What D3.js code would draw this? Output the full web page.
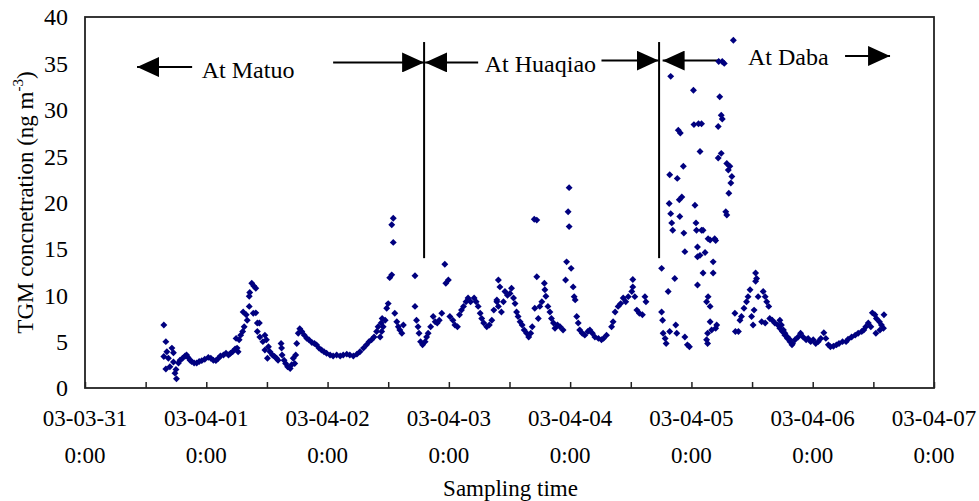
<!DOCTYPE html>
<html>
<head>
<meta charset="utf-8">
<script src="https://cdn.jsdelivr.net/npm/d3@7"></script>
<style>
  body { margin: 0; background: #fff; }
  text { font-family: "Liberation Serif", "Times New Roman", serif; fill: #000; }
</style>
</head>
<body>
<div id="chart"></div>
<script>
// [hours since 03-03-31 0:00, TGM ng/m3]
const matuo = [
  [15.6, 6.8], [15.6, 3.4], [16.0, 5.0], [16.0, 2.05], [16.2, 3.9], [16.5, 3.2], [16.8, 2.3], [17.2, 4.3], [17.5, 3.8], [17.5, 2.8],
  [17.8, 1.6], [18.0, 2.0], [18.1, 1.0], [18.5, 2.7], [18.8, 3.0], [19.3, 3.2], [19.8, 3.45], [20.1, 3.55], [20.4, 3.3], [20.8, 3.0],
  [21.1, 2.85], [21.6, 2.7], [22.1, 2.7], [22.6, 2.85], [23.1, 2.95], [23.7, 3.1], [24.4, 3.3], [24.9, 3.2], [25.4, 3.0], [25.9, 2.95],
  [26.4, 3.2], [26.8, 3.45], [27.4, 3.55], [27.9, 3.75], [28.4, 3.55], [28.8, 3.75], [29.2, 3.9], [29.7, 4.2], [29.9, 5.35], [30.1, 4.3],
  [30.3, 3.9], [30.5, 5.2], [30.8, 5.7], [31.2, 6.1], [31.3, 8.2], [31.5, 6.6], [31.9, 7.9], [32.1, 7.3], [32.5, 8.8], [32.5, 9.9],
  [32.6, 10.3], [33.0, 11.3], [33.3, 8.05], [33.4, 11.0], [33.8, 10.75], [33.8, 8.1], [34.1, 7.0], [34.1, 6.1], [34.5, 7.0], [34.6, 5.5],
  [35.2, 5.0], [35.6, 4.1], [35.6, 5.7], [35.9, 5.2], [36.1, 3.2], [36.3, 4.45], [36.6, 3.9], [37.1, 3.55], [37.5, 3.4], [37.9, 3.2],
  [38.2, 3.0], [38.8, 4.8], [38.9, 4.3], [39.0, 3.55], [39.4, 3.0], [39.7, 2.65], [40.1, 2.3], [40.6, 2.1], [40.9, 2.5], [41.2, 3.2],
  [41.5, 2.65], [41.7, 3.55], [41.9, 4.8], [42.2, 5.9], [42.5, 6.4], [42.9, 6.1], [43.4, 5.7], [43.9, 5.35], [44.3, 5.2], [44.9, 4.9],
  [45.4, 4.8], [45.8, 4.65], [46.3, 4.3], [46.8, 4.1], [47.3, 3.9], [47.8, 3.75], [48.5, 3.55], [49.1, 3.45], [49.8, 3.55], [50.5, 3.45],
  [51.1, 3.55], [51.8, 3.65], [52.4, 3.55], [53.1, 3.45], [53.8, 3.65], [54.4, 3.9], [55.1, 4.3], [55.7, 4.65], [56.2, 5.0], [56.7, 5.2],
  [57.2, 5.5], [57.7, 6.1], [58.0, 6.6], [58.4, 5.5], [58.6, 7.0], [58.7, 6.1], [58.8, 7.5], [59.0, 6.6], [59.4, 7.3], [59.7, 8.6],
  [60.0, 9.1], [60.3, 11.9], [60.7, 12.2], [60.7, 17.6], [61.0, 18.3], [61.0, 15.7], [61.3, 8.05], [61.7, 7.15], [62.0, 6.6], [62.3, 6.25],
  [62.7, 5.9], [63.0, 6.8], [65.3, 12.1], [65.3, 8.8], [65.6, 7.3], [65.9, 6.6], [66.1, 5.9], [66.4, 5.0], [66.8, 4.65]
]

const huaqiao = [
  [67.3, 5.0], [67.6, 5.5], [67.9, 5.9], [68.4, 6.6], [68.9, 7.7], [69.3, 7.15], [69.7, 7.0], [70.1, 7.3], [70.6, 8.05], [71.2, 13.35],
  [71.4, 11.3], [71.9, 11.65], [72.2, 7.7], [72.8, 7.3], [73.2, 6.8], [73.7, 6.6], [74.1, 7.9], [74.5, 8.4], [74.9, 8.8], [75.4, 9.3],
  [75.8, 9.7], [76.3, 9.3], [77.0, 9.7], [77.4, 9.3], [77.8, 8.8], [78.2, 8.05], [78.5, 7.5], [78.9, 7.0], [79.5, 6.6], [80.0, 6.8],
  [80.5, 7.3], [80.9, 8.4], [81.5, 9.3], [81.5, 9.5], [81.8, 8.8], [81.8, 11.65], [82.1, 10.9], [82.4, 8.2], [82.8, 9.3], [83.1, 10.4],
  [83.6, 10.0], [84.1, 10.2], [84.4, 10.75], [84.8, 9.7], [85.1, 9.1], [85.4, 8.2], [85.7, 7.7], [86.1, 7.15], [86.5, 6.8], [86.9, 6.25],
  [87.4, 5.9], [87.8, 5.5], [88.2, 5.9], [88.5, 6.6], [88.9, 18.2], [89.0, 8.6], [89.4, 18.1], [89.4, 12.0], [89.7, 7.5], [90.0, 8.8],
  [90.4, 9.3], [90.9, 11.3], [91.0, 10.6], [91.2, 9.9], [91.6, 8.8], [92.0, 8.2], [92.3, 7.5], [92.7, 7.0], [93.0, 6.45], [93.5, 6.8],
  [94.0, 6.6], [94.6, 6.25], [95.1, 11.65], [95.3, 13.6], [95.6, 19.0], [95.8, 21.6], [95.8, 17.4], [96.2, 12.9], [96.6, 10.9], [96.8, 9.85],
  [97.0, 9.5], [97.3, 7.7], [97.6, 7.0], [97.9, 6.25], [98.4, 5.9], [98.9, 5.7], [99.5, 6.1], [99.9, 6.25], [100.4, 5.9], [100.9, 5.5],
  [101.6, 5.35], [102.2, 5.2], [102.6, 5.35], [103.2, 5.7], [104.2, 6.6], [104.5, 7.15], [104.9, 8.2], [105.5, 8.8], [106.0, 9.1], [106.5, 9.7],
  [107.0, 9.3], [107.5, 9.85], [108.2, 10.4], [108.4, 10.9], [108.4, 11.7], [108.8, 9.85], [109.2, 8.4], [109.7, 8.05], [110.3, 7.9], [110.8, 9.85],
  [111.0, 9.3]
]

const daba = [
  [114.1, 12.9], [114.1, 8.2], [114.3, 7.3], [114.4, 5.9], [114.8, 5.35], [115.0, 4.8], [115.4, 10.4], [115.6, 19.9], [115.7, 23.0], [115.7, 6.1],
  [115.9, 33.6], [115.9, 18.8], [116.1, 17.8], [116.3, 17.0], [116.7, 11.8], [116.9, 6.8], [117.1, 5.9], [117.2, 22.6], [117.4, 27.8], [117.6, 20.3],
  [117.7, 18.5], [117.8, 27.5], [118.1, 20.6], [118.4, 23.9], [118.5, 16.7], [118.7, 14.7], [118.7, 5.5], [119.2, 4.65], [119.6, 4.45], [120.4, 32.1],
  [120.5, 28.4], [120.7, 19.7], [120.9, 17.8], [121.0, 17.0], [121.2, 15.2], [121.2, 11.1], [121.2, 14.15], [121.4, 28.5], [121.7, 25.5], [121.7, 14.3],
  [122.0, 28.5], [122.0, 17.0], [122.3, 17.0], [122.3, 12.4], [122.7, 14.6], [123.0, 9.3], [123.0, 5.2], [123.2, 5.9], [123.2, 4.8], [123.3, 16.1],
  [123.3, 9.85], [123.7, 15.95], [123.7, 8.8], [123.7, 7.15], [124.0, 6.25], [124.3, 13.6], [124.3, 12.4], [124.6, 16.1], [124.8, 15.9], [124.8, 6.45],
  [125.0, 6.8], [125.3, 28.2], [125.3, 24.8], [125.4, 35.2], [125.6, 31.4], [125.9, 29.4], [125.9, 25.3], [126.1, 29.0], [126.1, 35.2], [126.5, 35.0],
  [126.8, 19.0], [127.0, 18.65], [127.0, 24.2], [127.3, 23.5], [127.4, 21.0], [127.6, 23.9], [127.8, 22.1], [128.0, 22.8], [128.3, 37.5], [128.6, 8.05],
  [128.7, 6.1], [129.3, 6.1], [129.6, 7.3], [129.9, 7.7], [130.4, 8.6], [130.9, 9.3], [131.2, 9.85], [131.6, 10.6], [131.9, 7.7], [132.2, 6.8],
  [132.4, 8.4], [132.7, 11.5], [132.7, 12.4], [132.9, 11.8], [133.2, 9.85], [133.9, 7.15], [134.2, 10.4], [134.6, 9.85], [134.6, 7.0], [134.9, 9.3],
  [135.3, 8.8], [135.5, 7.5], [136.0, 7.3], [136.5, 7.0], [137.1, 6.8], [137.5, 6.45], [137.5, 7.3], [137.8, 6.8], [138.0, 6.1], [138.2, 6.25],
  [138.5, 5.7], [138.5, 5.9], [139.0, 5.5], [139.0, 5.35], [139.5, 5.2], [139.5, 5.0], [139.9, 4.65], [140.0, 4.8], [140.5, 5.2], [141.1, 5.5],
  [141.6, 5.9], [142.1, 5.5], [142.7, 5.2], [143.1, 5.35], [143.6, 5.0], [144.1, 5.2], [144.6, 4.8], [145.1, 5.0], [145.6, 5.35], [146.2, 5.95],
  [146.6, 5.35], [147.1, 4.65], [147.5, 4.45], [148.1, 4.5], [148.7, 4.65], [149.2, 4.8], [149.9, 5.0], [150.6, 5.0], [151.0, 5.25], [151.7, 5.5],
  [152.4, 5.7], [153.0, 5.9], [153.7, 6.1], [154.1, 6.25], [154.5, 6.6], [155.0, 7.0], [155.5, 6.6], [155.8, 8.1], [156.3, 7.9], [156.5, 5.9],
  [156.6, 7.5], [157.2, 7.15], [157.3, 6.25], [157.6, 6.8], [158.0, 6.45], [158.1, 7.9]
]

// site changes (hours) and labels
const siteChanges = [67.1, 113.6]
const siteLabels = ['At Matuo', 'At Huaqiao', 'At Daba']
const yTicks = [0, 5, 10, 15, 20, 25, 30, 35, 40]
const dayCount = 7

const width = 979
const height = 501
const margin = { top: 17, right: 45, bottom: 113, left: 85 }

const start = Date.UTC(2003, 2, 31)
const toDate = h => new Date(start + h * 3600e3)
const fmtDay = d3.utcFormat('%y-%m-%d')

const x = d3.scaleUtc()
  .domain([toDate(0), toDate(dayCount * 24)])
  .range([margin.left, width - margin.right])

const y = d3.scaleLinear()
  .domain([0, 40])
  .range([height - margin.bottom, margin.top])

const svg = d3.select('#chart').append('svg')
  .attr('width', width)
  .attr('height', height)

svg.append('defs').append('marker')
  .attr('id', 'head')
  .attr('viewBox', '0 0 22 20')
  .attr('refX', 22)
  .attr('refY', 10)
  .attr('markerWidth', 22)
  .attr('markerHeight', 20)
  .attr('markerUnits', 'userSpaceOnUse')
  .attr('orient', 'auto')
  .append('path')
  .attr('d', 'M0,0L22,10L0,20Z')
  .attr('fill', '#000')

// x axis, ticks every 12 h pointing inward
svg.append('g')
  .attr('transform', `translate(0,${y(0)})`)
  .call(d3.axisBottom(x)
    .tickValues(d3.range(0, dayCount * 24 + 1, 12).map(toDate))
    .tickSizeInner(-6)
    .tickSizeOuter(0)
    .tickFormat(''))
  .call(g => g.select('.domain').remove())
  .call(g => g.selectAll('.tick line').attr('stroke', '#222').attr('stroke-width', 1.5))

const days = d3.range(0, dayCount + 1).map(i => toDate(i * 24))
const xLab = svg.append('g').selectAll('text')
  .data(days).enter()
  .append('text')
  .attr('text-anchor', 'middle')
  .attr('font-size', 23)
xLab.append('tspan')
  .attr('x', d => x(d))
  .attr('y', 426)
  .text(d => fmtDay(d))
xLab.append('tspan')
  .attr('x', d => x(d))
  .attr('y', 463)
  .text('0:00')

svg.append('text')
  .attr('x', (x.range()[0] + x.range()[1]) / 2 + 1)
  .attr('y', 496)
  .attr('text-anchor', 'middle')
  .attr('font-size', 23)
  .text('Sampling time')

// y axis labels
svg.append('g').selectAll('text')
  .data(yTicks).enter()
  .append('text')
  .attr('x', 68)
  .attr('y', d => y(d))
  .attr('dy', '0.35em')
  .attr('text-anchor', 'end')
  .attr('font-size', 24)
  .text(d => d)

const yTitle = svg.append('text')
  .attr('transform', `translate(33,${(y(0) + y(40)) / 2}) rotate(-90)`)
  .attr('text-anchor', 'middle')
  .attr('font-size', 23)
yTitle.append('tspan').text('TGM concnetration (ng m')
yTitle.append('tspan').attr('font-size', 15).attr('dy', -10).text('-3')
yTitle.append('tspan').attr('dy', 10).text(')')

// frame
svg.append('rect')
  .attr('x', x.range()[0])
  .attr('y', y(40))
  .attr('width', x.range()[1] - x.range()[0])
  .attr('height', y(0) - y(40))
  .attr('fill', 'none')
  .attr('stroke', '#222')
  .attr('stroke-width', 1.8)

// site boundaries
svg.append('g').selectAll('line')
  .data(siteChanges).enter()
  .append('line')
  .attr('x1', d => x(toDate(d)))
  .attr('x2', d => x(toDate(d)))
  .attr('y1', y(37.3))
  .attr('y2', y(14))
  .attr('stroke', '#000')
  .attr('stroke-width', 2)

// arrows [from h, to h, value]
const arrows = [
  [21.2, 10.3, 34.6], [49.1, siteChanges[0], 35.1],
  [77.8, siteChanges[0] + 0.2, 35.1], [102.2, siteChanges[1] - 0.1, 35.3],
  [125.6, siteChanges[1] + 0.7, 35.3], [150.4, 159.3, 35.8]
]
svg.append('g').selectAll('line')
  .data(arrows).enter()
  .append('line')
  .attr('x1', d => x(toDate(d[0])))
  .attr('x2', d => x(toDate(d[1])))
  .attr('y1', d => y(d[2]))
  .attr('y2', d => y(d[2]))
  .attr('stroke', '#000')
  .attr('stroke-width', 2)
  .attr('marker-end', 'url(#head)')

const labelPos = [[23.1, 33.4], [79.1, 34.1], [131.2, 34.8]]
svg.append('g').selectAll('text')
  .data(siteLabels).enter()
  .append('text')
  .attr('x', (d, i) => x(toDate(labelPos[i][0])))
  .attr('y', (d, i) => y(labelPos[i][1]))
  .attr('font-size', 24)
  .text(d => d)

// points
const points = matuo.concat(huaqiao, daba)
const diamond = d3.symbol(d3.symbolSquare, 24)
svg.append('g').selectAll('path')
  .data(points).enter()
  .append('path')
  .attr('d', diamond)
  .attr('transform', d => `translate(${x(toDate(d[0]))},${y(d[1])}) rotate(45)`)
  .attr('fill', '#00007f')
</script>
</body>
</html>
